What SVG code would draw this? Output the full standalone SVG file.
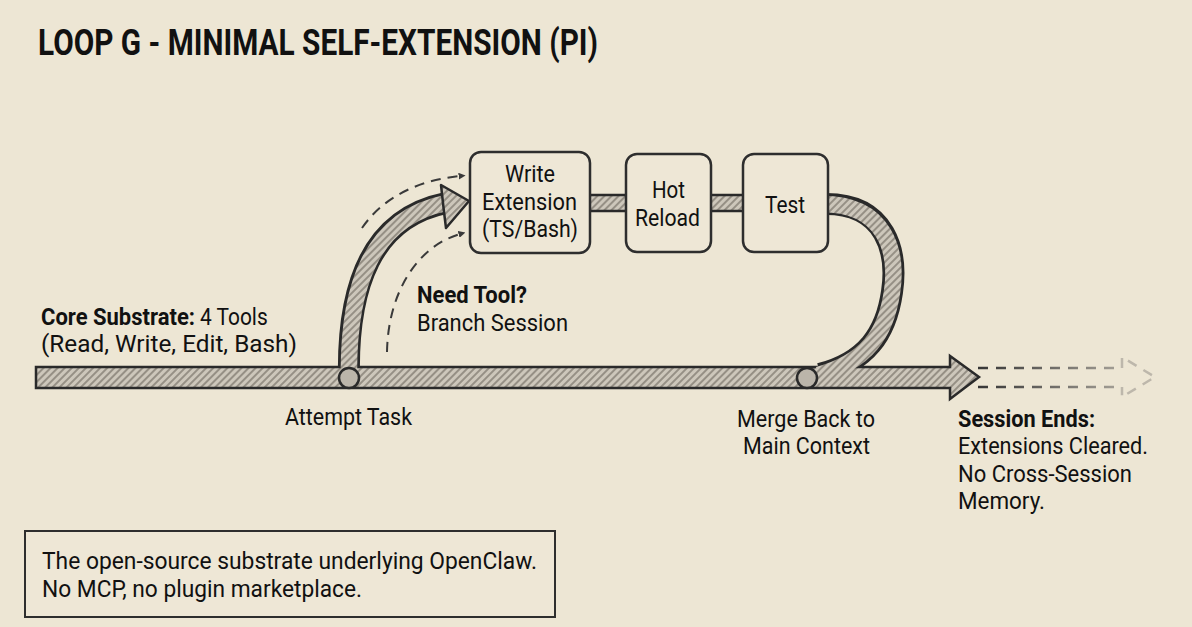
<svg xmlns="http://www.w3.org/2000/svg" width="1192" height="627" viewBox="0 0 1192 627">
<style>
text{font-family:Roboto,"Liberation Sans",sans-serif;fill:#111;font-size:24px}
.b{font-weight:bold}
.t{font-weight:bold;font-size:37px}
.box{fill:#eee7d6;stroke:#2e2e2e;stroke-width:2.5}
.edge{stroke:#2a2a2a;stroke-width:2.5;fill:url(#hatch)}
.dash{fill:none;stroke:#3a3a3a;stroke-width:2;stroke-dasharray:10 7}
</style>
<defs>
<pattern id="hatch" patternUnits="userSpaceOnUse" width="5" height="5" patternTransform="rotate(45)">
<rect width="5" height="5" fill="#cdc7bb"/>
<line x1="1" y1="0" x2="1" y2="5" stroke="#7e786e" stroke-width="1.4"/>
</pattern>
<marker id="tri" viewBox="0 0 10 10" refX="2" refY="5" markerWidth="7" markerHeight="7" orient="auto" markerUnits="userSpaceOnUse">
<path d="M0,0 L10,5 L0,10 Z" fill="#3a3a3a"/>
</marker>
<linearGradient id="fade" gradientUnits="userSpaceOnUse" x1="975" y1="0" x2="1160" y2="0">
<stop offset="0" stop-color="#333"/>
<stop offset="1" stop-color="#c4beb2"/>
</linearGradient>
</defs>
<rect width="1192" height="627" fill="#ede6d4"/>

<text class="t" x="38" y="55" textLength="560" lengthAdjust="spacingAndGlyphs">LOOP G - MINIMAL SELF-EXTENSION (PI)</text>

<g id="connectors">
  <path d="M349,378 C347,285 372,218 446,203" fill="none" stroke="#2a2a2a" stroke-width="22"/>
  <path d="M826,204 C886,204 898,252 892,292 C886,334 866,362 820,374" fill="none" stroke="#2a2a2a" stroke-width="22"/>
  <path class="edge" d="M36,367 H950 V356 L979,377 L950,399 V388 H36 Z"/>
  <path d="M349,382 C347,285 372,218 446,203" fill="none" stroke="url(#hatch)" stroke-width="16.5"/>
  <path d="M822,204 C886,204 898,252 892,292 C886,334 866,362 818,375" fill="none" stroke="url(#hatch)" stroke-width="16.5"/>
  <path class="edge" d="M441,185 L469,201 L446,228 L444,212 Z" stroke-linejoin="round"/>
  <rect x="590" y="195" width="36" height="16" fill="url(#hatch)"/>
  <line x1="590" y1="195" x2="626" y2="195" stroke="#2a2a2a" stroke-width="2.5"/>
  <line x1="590" y1="211" x2="626" y2="211" stroke="#2a2a2a" stroke-width="2.5"/>
  <rect x="711" y="195" width="32" height="16" fill="url(#hatch)"/>
  <line x1="711" y1="195" x2="743" y2="195" stroke="#2a2a2a" stroke-width="2.5"/>
  <line x1="711" y1="211" x2="743" y2="211" stroke="#2a2a2a" stroke-width="2.5"/>
  <circle cx="349" cy="378" r="10" fill="#bbb5aa" stroke="#2a2a2a" stroke-width="2.5"/>
  <circle cx="807" cy="378" r="10" fill="#bbb5aa" stroke="#2a2a2a" stroke-width="2.5"/>
  <path class="dash" d="M362,228 C384,196 420,180 460,176" marker-end="url(#tri)"/>
  <path class="dash" d="M387,352 C388,292 418,246 460,234" marker-end="url(#tri)"/>
  <line x1="978" y1="368" x2="1122" y2="368" stroke="url(#fade)" stroke-width="2.5" stroke-dasharray="10 8"/>
  <line x1="978" y1="387" x2="1122" y2="387" stroke="url(#fade)" stroke-width="2.5" stroke-dasharray="10 8"/>
  <path d="M1122,368 V357 L1155,377 L1122,397 V387" fill="none" stroke="#bdb7ab" stroke-width="2.5" stroke-dasharray="10 8"/>
</g>

<g id="node-write">
  <rect class="box" x="470" y="152" width="120" height="101" rx="11"/>
  <text x="505" y="182" textLength="50" lengthAdjust="spacingAndGlyphs">Write</text>
  <text x="482" y="210" textLength="95" lengthAdjust="spacingAndGlyphs">Extension</text>
  <text x="482" y="237" textLength="96" lengthAdjust="spacingAndGlyphs">(TS/Bash)</text>
</g>
<g id="node-hot">
  <rect class="box" x="626" y="154" width="85" height="98" rx="11"/>
  <text x="652" y="198" textLength="33" lengthAdjust="spacingAndGlyphs">Hot</text>
  <text x="635" y="226" textLength="65" lengthAdjust="spacingAndGlyphs">Reload</text>
</g>
<g id="node-test">
  <rect class="box" x="743" y="154" width="85" height="98" rx="11"/>
  <text x="765" y="213" textLength="40" lengthAdjust="spacingAndGlyphs">Test</text>
</g>

<g id="label-core">
  <text class="b" transform="translate(41,325) scale(0.846,1)" x="0" y="0" textLength="182" lengthAdjust="spacingAndGlyphs">Core Substrate:</text>
  <text transform="translate(200,325) scale(0.88,1)" x="0" y="0" textLength="77" lengthAdjust="spacingAndGlyphs">4 Tools</text>
  <text x="41" y="352" textLength="256" lengthAdjust="spacingAndGlyphs">(Read, Write, Edit, Bash)</text>
</g>
<g id="label-attempt">
  <text x="285" y="425" textLength="127" lengthAdjust="spacingAndGlyphs">Attempt Task</text>
</g>
<g id="label-need">
  <text class="b" x="417" y="303" textLength="110" lengthAdjust="spacingAndGlyphs">Need Tool?</text>
  <text x="417" y="331" textLength="151" lengthAdjust="spacingAndGlyphs">Branch Session</text>
</g>
<g id="label-merge">
  <text x="737" y="427" textLength="138" lengthAdjust="spacingAndGlyphs">Merge Back to</text>
  <text x="743" y="454" textLength="127" lengthAdjust="spacingAndGlyphs">Main Context</text>
</g>
<g id="label-session">
  <text class="b" x="958" y="427" textLength="137" lengthAdjust="spacingAndGlyphs">Session Ends:</text>
  <text x="958" y="454" textLength="190" lengthAdjust="spacingAndGlyphs">Extensions Cleared.</text>
  <text x="958" y="482" textLength="174" lengthAdjust="spacingAndGlyphs">No Cross-Session</text>
  <text x="958" y="509" textLength="87" lengthAdjust="spacingAndGlyphs">Memory.</text>
</g>
<g id="note">
  <rect x="25" y="531" width="530" height="86" fill="#eee7d6" stroke="#2e2e2e" stroke-width="2"/>
  <text x="42" y="569" textLength="495" lengthAdjust="spacingAndGlyphs">The open-source substrate underlying OpenClaw.</text>
  <text x="42" y="597" textLength="320" lengthAdjust="spacingAndGlyphs">No MCP, no plugin marketplace.</text>
</g>
</svg>
